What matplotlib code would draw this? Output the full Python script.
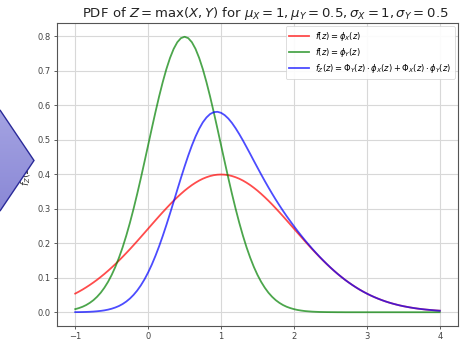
import numpy as np
import matplotlib
matplotlib.use("Agg")
import matplotlib.pyplot as plt
from matplotlib.patches import Polygon
from matplotlib.colors import LinearSegmentedColormap

# x grid (step 0.05 from -1 to 4)
z_values = [round(-1 + 0.05 * i, 2) for i in range(101)]

pdf_x = [0.0540, 0.0596, 0.0656, 0.0721, 0.0790, 0.0863, 0.0940, 0.1023, 0.1109, 0.1200,
         0.1295, 0.1394, 0.1497, 0.1604, 0.1714, 0.1826, 0.1942, 0.2059, 0.2179, 0.2299,
         0.2420, 0.2541, 0.2661, 0.2780, 0.2897, 0.3011, 0.3123, 0.3230, 0.3332, 0.3429,
         0.3521, 0.3605, 0.3683, 0.3752, 0.3814, 0.3867, 0.3910, 0.3945, 0.3970, 0.3984,
         0.3989,
         0.3984, 0.3970, 0.3945, 0.3910, 0.3867, 0.3814, 0.3752, 0.3683, 0.3605, 0.3521,
         0.3429, 0.3332, 0.3230, 0.3123, 0.3011, 0.2897, 0.2780, 0.2661, 0.2541, 0.2420,
         0.2299, 0.2179, 0.2059, 0.1942, 0.1826, 0.1714, 0.1604, 0.1497, 0.1394, 0.1295,
         0.1200, 0.1109, 0.1023, 0.0940, 0.0863, 0.0790, 0.0721, 0.0656, 0.0596, 0.0540,
         0.0488, 0.0440, 0.0396, 0.0355, 0.0317, 0.0283, 0.0252, 0.0224, 0.0198, 0.0175,
         0.0155, 0.0136, 0.0119, 0.0104, 0.0091, 0.0079, 0.0069, 0.0060, 0.0051, 0.0044]

pdf_y = [0.0089, 0.0120, 0.0158, 0.0208, 0.0272, 0.0350, 0.0448, 0.0566, 0.0710, 0.0880,
         0.1080, 0.1312, 0.1579, 0.1880, 0.2218, 0.2590, 0.2995, 0.3428, 0.3884, 0.4358,
         0.4839, 0.5322, 0.5794, 0.6246, 0.6664, 0.7042, 0.7365, 0.7628, 0.7821, 0.7940,
         0.7979,
         0.7940, 0.7821, 0.7628, 0.7365, 0.7042, 0.6664, 0.6246, 0.5794, 0.5322, 0.4839,
         0.4358, 0.3884, 0.3428, 0.2995, 0.2590, 0.2218, 0.1880, 0.1579, 0.1312, 0.1080,
         0.0880, 0.0710, 0.0566, 0.0448, 0.0350, 0.0272, 0.0208, 0.0158, 0.0120, 0.0089,
         0.0065, 0.0048, 0.0034, 0.0025, 0.0017, 0.0012, 0.0008, 0.0006, 0.0004, 0.0003,
         0.0002, 0.0001, 0.0001, 0.0, 0.0, 0.0, 0.0, 0.0, 0.0, 0.0,
         0.0, 0.0, 0.0, 0.0, 0.0, 0.0, 0.0, 0.0, 0.0, 0.0,
         0.0, 0.0, 0.0, 0.0, 0.0, 0.0, 0.0, 0.0, 0.0, 0.0]

pdf_z = [0.0003, 0.0004, 0.0006, 0.0009, 0.0013, 0.0019, 0.0028, 0.0039, 0.0054, 0.0075,
         0.0102, 0.0137, 0.0181, 0.0238, 0.0309, 0.0396, 0.0502, 0.0628, 0.0778, 0.0952,
         0.1152, 0.1378, 0.1631, 0.1907, 0.2207, 0.2525, 0.2859, 0.3201, 0.3547, 0.3890,
         0.4222, 0.4537, 0.4829, 0.5089, 0.5314, 0.5500, 0.5641, 0.5741, 0.5795, 0.5806,
         0.5776, 0.5709, 0.5610, 0.5482, 0.5329, 0.5159, 0.4976, 0.4782, 0.4586, 0.4385,
         0.4188, 0.3992, 0.3801, 0.3616, 0.3437, 0.3263, 0.3098, 0.2937, 0.2783, 0.2636,
         0.2492, 0.2352, 0.2219, 0.2088, 0.1963, 0.1841, 0.1725, 0.1611, 0.1503, 0.1398,
         0.1297, 0.1201, 0.1109, 0.1023, 0.0940, 0.0863, 0.0790, 0.0721, 0.0656, 0.0596,
         0.0540, 0.0488, 0.0440, 0.0396, 0.0355, 0.0317, 0.0283, 0.0252, 0.0224, 0.0198,
         0.0175, 0.0155, 0.0136, 0.0119, 0.0104, 0.0091, 0.0079, 0.0069, 0.0060, 0.0051,
         0.0044]

labels = [r"$f(z) = \phi_X(z)$",
          r"$f(z) = \phi_Y(z)$",
          r"$f_Z(z) = \Phi_Y(z) \cdot \phi_X(z) + \Phi_X(z) \cdot \phi_Y(z)$"]
title = r"PDF of $Z = \max(X, Y)$ for $\mu_X = 1, \mu_Y = 0.5, \sigma_X = 1, \sigma_Y = 0.5$"
x_ticks = [-1, 0, 1, 2, 3, 4]
y_ticks = [0.0, 0.1, 0.2, 0.3, 0.4, 0.5, 0.6, 0.7, 0.8]

W, H = 464, 340
fig = plt.figure(figsize=(W / 100, H / 100), dpi=100)
ax = fig.add_axes([57 / W, 1 - 326 / H, (458 - 57) / W, (326 - 23) / H])

ax.plot(z_values, pdf_x, color="red", alpha=0.7, lw=1.3, label=labels[0])
ax.plot(z_values, pdf_y, color="green", alpha=0.7, lw=1.3, label=labels[1])
ax.plot(z_values, pdf_z, color="blue", alpha=0.7, lw=1.3, label=labels[2])

ax.set_xticks(x_ticks)
ax.set_yticks(y_ticks)
ax.set_xticklabels([f"{t}" if t >= 0 else "\u22121" for t in x_ticks])
ax.set_yticklabels([f"{t:.1f}" for t in y_ticks])
ax.tick_params(labelsize=6, length=2.5, width=0.6, colors="#444444", pad=2)
ax.grid(True, color="#d8d8d8", lw=0.8)
for s in ax.spines.values():
    s.set_color("#555555")
    s.set_linewidth(0.8)

ax.set_title(title, fontsize=9.5, pad=4, color="#222222", x=0.52)
ax.set_ylabel(r"$f_Z(z)$", fontsize=7, labelpad=3, color="#333333")

leg = ax.legend(loc="upper right", fontsize=6.0, handlelength=2.4, framealpha=0.9,
                borderpad=0.45, labelspacing=0.4, handletextpad=0.7,
                borderaxespad=0.35)
leg.get_frame().set_linewidth(0.5)

# overlay diamond shape
ov = fig.add_axes([0, 0, 1, 1], zorder=10)
ov.set_xlim(0, W)
ov.set_ylim(H, 0)
ov.axis("off")
ov.patch.set_alpha(0)
pts = [(-34, 160.5), (0, 110), (34, 160.5), (0, 211)]
poly = Polygon(pts, closed=True, facecolor="none", edgecolor="#2a2a99", lw=1.0)
ov.add_patch(poly)
grad = np.linspace(0, 1, 100).reshape(-1, 1)
cmap = LinearSegmentedColormap.from_list("g", ["#a4a3e2", "#8a88d6"])
im = ov.imshow(grad, cmap=cmap, extent=(-34, 34, 211, 110), aspect="auto", origin="upper")
im.set_clip_path(poly)

fig.savefig("out.png", dpi=100)
